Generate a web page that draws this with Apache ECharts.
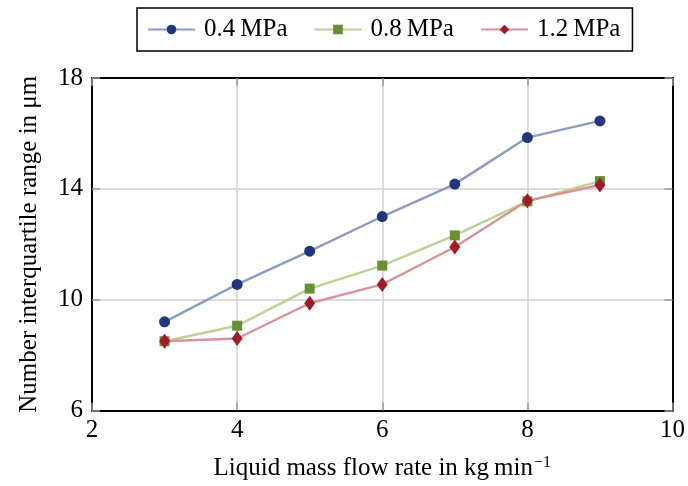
<!DOCTYPE html>
<html>
<head>
<meta charset="utf-8">
<script src="https://cdn.jsdelivr.net/npm/echarts@6/dist/echarts.min.js"></script>
<style>
  html, body { margin: 0; padding: 0; background: #fff; }
  #chart { width: 688px; height: 486px; }
</style>
</head>
<body>
<div id="chart"></div>
<script>
const flowRate = [3, 4, 5, 6, 7, 8, 9]
const seriesNames = ['0.4\u2009MPa', '0.8\u2009MPa', '1.2\u2009MPa']
const iqr04 = [9.2, 10.55, 11.75, 13.0, 14.17, 15.85, 16.45]
const iqr08 = [8.5, 9.06, 10.4, 11.23, 12.32, 13.55, 14.28]
const iqr12 = [8.5, 8.6, 9.87, 10.55, 11.9, 13.57, 14.14]
const xTicks = [2, 4, 6, 8, 10]
const yTicks = [6, 10, 14, 18]

const font = 'Liberation Serif'
const chart = echarts.init(document.getElementById('chart'))

function pairs(ys) {
  return flowRate.map((x, i) => [x, ys[i]])
}

function mkSeries(name, ys, lineColor, markColor, symbol, size) {
  return {
    name,
    type: 'line',
    data: pairs(ys),
    symbol,
    symbolSize: size,
    showAllSymbol: true,
    lineStyle: { color: lineColor, width: 2.4 },
    itemStyle: { color: markColor },
    emphasis: { disabled: true }
  }
}

const axisText = { fontFamily: font, fontSize: 25, color: '#000' }

chart.setOption({
  animation: false,
  textStyle: { fontFamily: font },
  legend: {
    top: 8,
    left: 137,
    padding: [9, 12, 9, 10],
    itemGap: 26,
    itemWidth: 47,
    itemHeight: 12,
    borderColor: '#000',
    borderWidth: 1.5,
    borderRadius: 0,
    textStyle: { fontFamily: font, fontSize: 25, color: '#000', padding: [0, 0, 0, 4] },
    data: seriesNames
  },
  grid: { left: 92, right: 13, top: 78, bottom: 73 },
  xAxis: [
    {
      type: 'value',
      min: 2, max: 10, interval: 2,
      name: '{a|Liquid mass flow rate in kg\u2009min}{s|−1}',
      nameLocation: 'middle',
      nameGap: 44,
      nameTextStyle: {
        rich: {
          a: { fontFamily: font, fontSize: 25, color: '#000' },
          s: { fontFamily: font, fontSize: 16, color: '#000', verticalAlign: 'top', padding: [0, 0, 12, 1] }
        }
      },
      axisLine: { show: true, onZero: false, lineStyle: { color: '#000', width: 2 } },
      axisTick: { show: true, inside: true, length: 8, lineStyle: { color: '#999', width: 1.5 } },
      axisLabel: Object.assign({ margin: 7, formatter: v => xTicks.includes(v) ? String(v) : '' }, axisText),
      splitLine: { show: true, lineStyle: { color: '#d0d0d0', width: 1.5 } }
    },
    {
      type: 'value',
      position: 'top',
      min: 2, max: 10, interval: 2,
      axisLine: { show: true, lineStyle: { color: '#000', width: 2 } },
      axisTick: { show: true, inside: true, length: 8, lineStyle: { color: '#999', width: 1.5 } },
      axisLabel: { show: false },
      splitLine: { show: false }
    }
  ],
  yAxis: [
    {
      type: 'value',
      min: 6, max: 18, interval: 4,
      name: 'Number interquartile range in μm',
      nameLocation: 'middle',
      nameGap: 50,
      nameTextStyle: { fontFamily: font, fontSize: 25, color: '#000' },
      axisLine: { show: true, onZero: false, lineStyle: { color: '#000', width: 2 } },
      axisTick: { show: true, inside: true, length: 8, lineStyle: { color: '#999', width: 1.5 } },
      axisLabel: Object.assign({ margin: 9, formatter: v => yTicks.includes(v) ? String(v) : '' }, axisText),
      splitLine: { show: true, lineStyle: { color: '#d0d0d0', width: 1.5 } }
    },
    {
      type: 'value',
      position: 'right',
      min: 6, max: 18, interval: 4,
      axisLine: { show: true, lineStyle: { color: '#000', width: 2 } },
      axisTick: { show: true, inside: true, length: 8, lineStyle: { color: '#999', width: 1.5 } },
      axisLabel: { show: false },
      splitLine: { show: false }
    }
  ],
  series: [
    mkSeries(seriesNames[0], iqr04, '#8e9cc2', '#22357d', 'circle', 11),
    mkSeries(seriesNames[1], iqr08, '#bcd294', '#688f32', 'rect', 10),
    mkSeries(seriesNames[2], iqr12, '#d9939a', '#a01b2b', 'diamond', [11, 15])
  ]
})
</script>
</body>
</html>
